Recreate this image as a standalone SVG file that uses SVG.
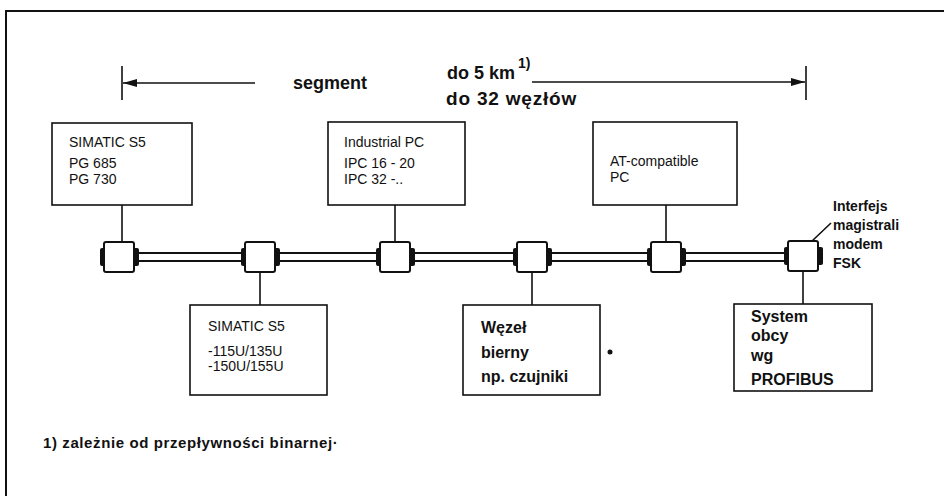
<svg xmlns="http://www.w3.org/2000/svg" width="944" height="496" viewBox="0 0 944 496">
<style>
.frame{stroke:#111;stroke-width:2;fill:none}
.box{fill:#fff;stroke:#111;stroke-width:1.6}
.ln{stroke:#111;stroke-width:1.6;fill:none}
.sq{fill:#fff;stroke:#111;stroke-width:2}
.cap{fill:#111}
.t{font-family:"Liberation Sans",Arial,sans-serif;font-size:14px;fill:#111}
.tb{font-family:"Liberation Sans",Arial,sans-serif;font-size:16px;font-weight:bold;fill:#111}
.lb{font-family:"Liberation Sans",Arial,sans-serif;font-size:14px;font-weight:bold;fill:#111}
.big{font-family:"Liberation Sans",Arial,sans-serif;font-size:18px;font-weight:bold;fill:#111}
.fn{font-family:"Liberation Sans",Arial,sans-serif;font-size:15px;font-weight:bold;letter-spacing:0.6px;fill:#111}
</style>
<defs>
<marker id="ah" viewBox="0 0 14 8" refX="14" refY="4" markerWidth="14" markerHeight="8" markerUnits="userSpaceOnUse" orient="auto-start-reverse">
<path d="M0,0 L14,4 L0,8 Z" fill="#111"/>
</marker>
</defs>
<rect width="944" height="496" fill="#fff"/>
<path class="frame" d="M6,496 V11 H944"/>

<g id="dimension">
<line class="ln" x1="122" y1="66" x2="122" y2="100"/>
<line class="ln" x1="806" y1="66" x2="806" y2="100"/>
<line class="ln" x1="123" y1="83" x2="255" y2="83" marker-start="url(#ah)"/>
<line class="ln" x1="532" y1="82" x2="805" y2="82" marker-end="url(#ah)"/>
<text class="big" x="293" y="89">segment</text>
<text class="big" x="447" y="79">do 5 km</text>
<text class="t" x="518" y="68" font-weight="bold">1)</text>
<text class="big" x="446" y="105" style="font-size:19px;letter-spacing:0.8px">do 32 węzłów</text>
</g>

<g id="connectors">
<line class="ln" x1="122" y1="205" x2="122" y2="243"/>
<line class="ln" x1="395" y1="205" x2="395" y2="243"/>
<line class="ln" x1="666" y1="205" x2="666" y2="243"/>
<line class="ln" x1="260" y1="271" x2="260" y2="305"/>
<line class="ln" x1="532" y1="271" x2="532" y2="305"/>
<line class="ln" x1="803" y1="271" x2="803" y2="304"/>
<line class="ln" x1="811" y1="242" x2="831" y2="223"/>
<line x1="104" y1="253" x2="788" y2="253" stroke="#111" stroke-width="2.2"/>
<line x1="104" y1="261" x2="788" y2="261" stroke="#111" stroke-width="2.2"/>
</g>

<g id="bus-nodes">
<g id="tap1"><rect class="cap" x="100" y="248" width="6" height="18" rx="2"/><rect class="cap" x="133" y="248" width="6" height="18" rx="2"/><rect class="sq" x="104" y="242" width="30" height="30" rx="2"/></g>
<g id="tap2"><rect class="cap" x="241" y="248" width="6" height="18" rx="2"/><rect class="cap" x="274" y="248" width="6" height="18" rx="2"/><rect class="sq" x="245" y="242" width="30" height="30" rx="2"/></g>
<g id="tap3"><rect class="cap" x="376" y="248" width="6" height="18" rx="2"/><rect class="cap" x="409" y="248" width="6" height="18" rx="2"/><rect class="sq" x="380" y="242" width="30" height="30" rx="2"/></g>
<g id="tap4"><rect class="cap" x="513" y="248" width="6" height="18" rx="2"/><rect class="cap" x="546" y="248" width="6" height="18" rx="2"/><rect class="sq" x="517" y="242" width="30" height="30" rx="2"/></g>
<g id="tap5"><rect class="cap" x="647" y="248" width="6" height="18" rx="2"/><rect class="cap" x="680" y="248" width="6" height="18" rx="2"/><rect class="sq" x="651" y="242" width="30" height="30" rx="2"/></g>
<g id="tap6"><rect class="cap" x="784" y="247" width="6" height="18" rx="2"/><rect class="cap" x="817" y="247" width="6" height="18" rx="2"/><rect class="sq" x="788" y="241" width="30" height="30" rx="2"/></g>
</g>

<g id="node-simatic-pg">
<rect class="box" x="52" y="123" width="140" height="82"/>
<text class="t" x="69" y="147">SIMATIC S5</text>
<text class="t" x="69" y="168">PG 685</text>
<text class="t" x="69" y="184">PG 730</text>
</g>
<g id="node-industrial-pc">
<rect class="box" x="328" y="122" width="137" height="83"/>
<text class="t" x="344" y="147">Industrial PC</text>
<text class="t" x="344" y="168">IPC 16 - 20</text>
<text class="t" x="344" y="184">IPC 32 -..</text>
</g>
<g id="node-at-pc">
<rect class="box" x="593" y="122" width="144" height="83"/>
<text class="t" x="610" y="166">AT-compatible</text>
<text class="t" x="610" y="182">PC</text>
</g>
<g id="node-simatic-plc">
<rect class="box" x="190" y="305" width="137" height="90"/>
<text class="t" x="208" y="331">SIMATIC S5</text>
<text class="t" x="208" y="356">-115U/135U</text>
<text class="t" x="208" y="371">-150U/155U</text>
</g>
<g id="node-passive">
<rect class="box" x="463" y="305" width="137" height="90"/>
<text class="tb" x="481" y="333">Węzeł</text>
<text class="tb" x="481" y="358">bierny</text>
<text class="tb" x="481" y="382">np. czujniki</text>
<circle cx="610" cy="352" r="2.5" fill="#111"/>
</g>
<g id="node-foreign">
<rect class="box" x="734" y="304" width="138" height="87"/>
<text class="tb" x="751" y="322">System</text>
<text class="tb" x="751" y="341">obcy</text>
<text class="tb" x="751" y="361">wg</text>
<text class="tb" x="751" y="385">PROFIBUS</text>
</g>
<g id="label-interface">
<text class="lb" x="833" y="211">Interfejs</text>
<text class="lb" x="833" y="230">magistrali</text>
<text class="lb" x="833" y="249">modem</text>
<text class="lb" x="833" y="268">FSK</text>
</g>
<text class="fn" x="43" y="448">1) zależnie od przepływności binarnej·</text>
</svg>
